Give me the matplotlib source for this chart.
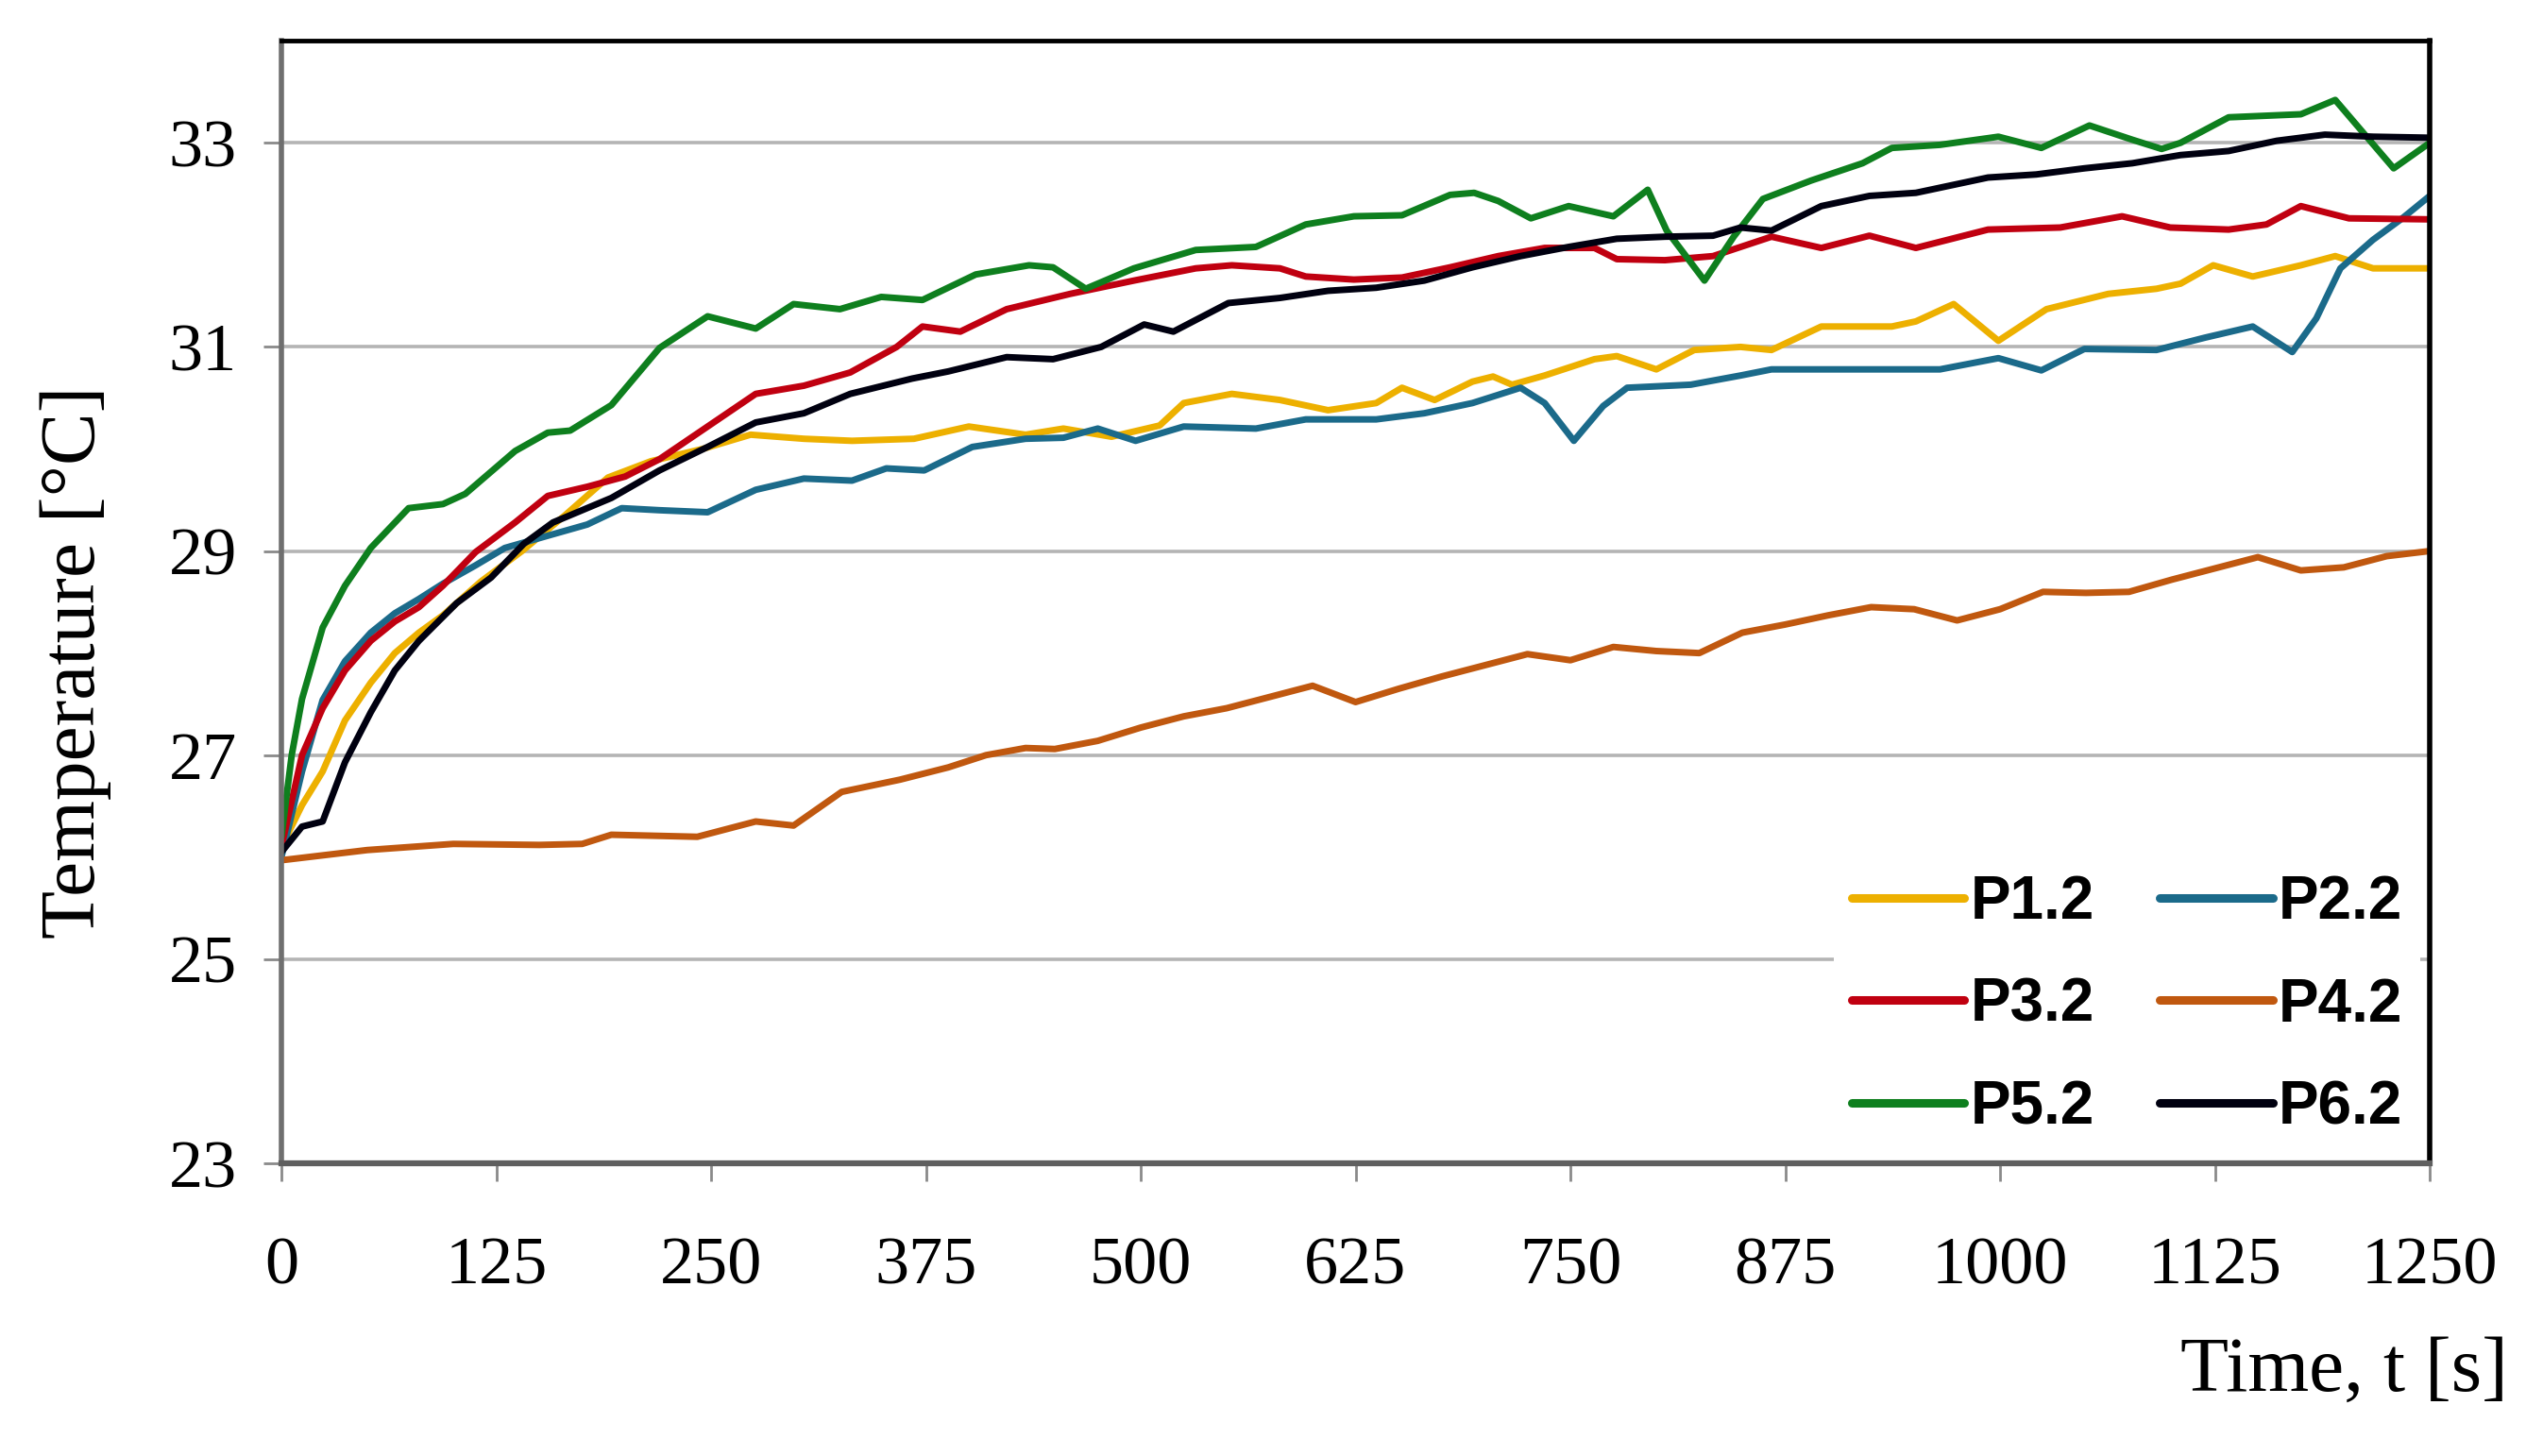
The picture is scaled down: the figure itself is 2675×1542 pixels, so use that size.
import numpy as np
import matplotlib.pyplot as plt

# values (time in s, temperature in degC)
t_p1 = [0, 12, 24, 37, 52, 66, 80, 94, 116, 140, 165, 190, 215, 245, 273, 304, 332, 368, 400, 433,
        455, 483, 511, 525, 553, 581, 609, 637, 652, 671, 693, 705, 716, 735, 764, 777, 800, 822, 849,
        867, 896, 937, 951, 973, 999, 1027, 1063, 1091, 1105, 1124, 1147, 1175, 1195, 1217, 1250]
p1 = [26.1, 26.51, 26.84, 27.34, 27.71, 28.0, 28.2, 28.37, 28.7, 29.0, 29.35, 29.72, 29.88, 30.0, 30.14,
      30.1, 30.08, 30.1, 30.22, 30.14, 30.2, 30.12, 30.23, 30.45, 30.54, 30.48, 30.38, 30.45, 30.6, 30.48,
      30.66, 30.71, 30.63, 30.72, 30.88, 30.91, 30.78, 30.97, 31.0, 30.97, 31.2, 31.2, 31.25, 31.42, 31.06,
      31.37, 31.52, 31.57, 31.62, 31.8, 31.69, 31.8, 31.89, 31.77, 31.77]

t_p2 = [0, 12, 24, 37, 52, 66, 80, 94, 113, 130, 155, 178, 198, 220, 248, 276, 304, 332, 352, 374, 402,
        433, 455, 475, 497, 525, 567, 596, 637, 665, 693, 721, 735, 752, 769, 783, 820, 849, 867, 909, 965,
        999, 1024, 1049, 1091, 1119, 1147, 1170, 1184, 1198, 1217, 1234, 1250]
p2 = [26.0, 26.84, 27.54, 27.92, 28.2, 28.39, 28.53, 28.68, 28.86, 29.03, 29.15, 29.26, 29.42, 29.4, 29.38,
      29.6, 29.71, 29.69, 29.81, 29.79, 30.02, 30.1, 30.11, 30.2, 30.08, 30.22, 30.2, 30.29, 30.29, 30.35,
      30.45, 30.6, 30.45, 30.08, 30.42, 30.6, 30.63, 30.72, 30.78, 30.78, 30.78, 30.89, 30.77, 30.98, 30.97,
      31.09, 31.2, 30.95, 31.28, 31.77, 32.05, 32.26, 32.48]

t_p3 = [0, 12, 24, 37, 52, 66, 80, 94, 113, 136, 155, 178, 200, 220, 248, 276, 304, 331, 358, 373, 395,
        422, 459, 496, 532, 553, 581, 596, 624, 652, 680, 708, 735, 764, 777, 805, 833, 867, 896, 924, 951,
        993, 1035, 1071, 1099, 1133, 1155, 1175, 1203, 1250]
p3 = [26.1, 27.0, 27.46, 27.83, 28.12, 28.31, 28.45, 28.66, 28.99, 29.28, 29.54, 29.63, 29.73, 29.9, 30.22,
      30.54, 30.62, 30.75, 31.0, 31.2, 31.15, 31.37, 31.52, 31.65, 31.77, 31.8, 31.77, 31.69, 31.66, 31.68,
      31.78, 31.89, 31.97, 31.97, 31.86, 31.85, 31.89, 32.08, 31.97, 32.09, 31.97, 32.15, 32.17, 32.28,
      32.17, 32.15, 32.2, 32.38, 32.26, 32.25]

t_p4 = [0, 50, 100, 150, 175, 192, 242, 276, 298, 326, 360, 388, 410, 433, 450, 475, 500, 525, 550, 575,
        600, 625, 650, 675, 700, 725, 750, 775, 800, 825, 850, 875, 900, 925, 950, 975, 1000, 1025, 1050,
        1075, 1100, 1125, 1150, 1175, 1200, 1225, 1250]
p4 = [25.97, 26.07, 26.13, 26.12, 26.13, 26.22, 26.2, 26.35, 26.31, 26.64, 26.76, 26.88, 27.0, 27.07, 27.06,
      27.14, 27.27, 27.38, 27.46, 27.57, 27.68, 27.52, 27.65, 27.77, 27.88, 27.99, 27.93, 28.06, 28.02, 28.0,
      28.2, 28.28, 28.37, 28.45, 28.43, 28.32, 28.43, 28.6, 28.59, 28.6, 28.72, 28.83, 28.94, 28.81, 28.84,
      28.95, 29.0]

t_p5 = [0, 6, 12, 24, 37, 52, 74, 94, 107, 136, 155, 168, 192, 220, 248, 276, 298, 325, 349, 373, 404, 435,
        449, 468, 496, 532, 567, 596, 624, 652, 680, 694, 708, 727, 749, 775, 795, 806, 828, 845, 862, 890,
        920, 937, 965, 999, 1024, 1052, 1077, 1094, 1105, 1133, 1175, 1195, 1229, 1250]
p5 = [26.2, 27.0, 27.55, 28.25, 28.66, 29.03, 29.42, 29.46, 29.56, 29.98, 30.16, 30.18, 30.43, 30.99, 31.3,
      31.18, 31.42, 31.37, 31.49, 31.46, 31.71, 31.8, 31.78, 31.57, 31.77, 31.95, 31.98, 32.2, 32.28, 32.29,
      32.49, 32.51, 32.43, 32.26, 32.38, 32.28, 32.54, 32.14, 31.65, 32.08, 32.45, 32.63, 32.8, 32.95,
      32.98, 33.06, 32.95, 33.17, 33.03, 32.94, 33.0, 33.25, 33.28, 33.42, 32.75, 33.0]

t_p6 = [0, 12, 24, 37, 52, 66, 80, 102, 122, 141, 158, 192, 220, 248, 276, 304, 331, 367, 388, 422, 449,
        477, 502, 519, 551, 581, 609, 637, 665, 693, 721, 749, 777, 805, 833, 849, 867, 896, 924, 951,
        993, 1021, 1049, 1077, 1105, 1133, 1161, 1189, 1217, 1250]
p6 = [26.05, 26.3, 26.35, 26.93, 27.42, 27.83, 28.12, 28.49, 28.74, 29.07, 29.28, 29.52, 29.79, 30.02, 30.26,
      30.35, 30.54, 30.69, 30.76, 30.9, 30.88, 31.0, 31.22, 31.15, 31.43, 31.48, 31.55, 31.58, 31.65,
      31.78, 31.89, 31.98, 32.06, 32.08, 32.09, 32.17, 32.14, 32.38, 32.48, 32.51, 32.66, 32.69, 32.75,
      32.8, 32.88, 32.92, 33.02, 33.08, 33.06, 33.05]

series = [("P1.2", t_p1, p1, "#EDB000"),
          ("P2.2", t_p2, p2, "#1B6A8A"),
          ("P3.2", t_p3, p3, "#C00010"),
          ("P4.2", t_p4, p4, "#C0580F"),
          ("P5.2", t_p5, p5, "#0E7F1E"),
          ("P6.2", t_p6, p6, "#000010")]

x_ticks = [0, 125, 250, 375, 500, 625, 750, 875, 1000, 1125, 1250]
y_ticks = [23, 25, 27, 29, 31, 33]

plt.rcParams['font.family'] = 'Liberation Serif'

fig = plt.figure(figsize=(26.75, 15.42), dpi=100)
ax = fig.add_axes([0.1114, 0.201, 0.8505, 0.771])

handles = []
for name, t, y, c in series:
    h, = ax.plot(t, y, color=c, linewidth=5, label=name,
                 solid_capstyle='round', solid_joinstyle='round')
    handles.append(h)

ax.set_xlim(0, 1250)
ax.set_ylim(23, 34)
ax.set_xticks(x_ticks)
ax.set_yticks(y_ticks)
ax.tick_params(axis='both', labelsize=52, direction='out', length=14, width=2, color='#8a8a8a')
ax.tick_params(axis='x', pad=42)
ax.tick_params(axis='y', pad=20)
ax.yaxis.grid(True, color='#b4b4b4', linewidth=2.6)
ax.set_axisbelow(True)

ax.spines['left'].set_color('#6f6f6f')
ax.spines['left'].set_linewidth(4)
ax.spines['bottom'].set_color('#5f5f5f')
ax.spines['bottom'].set_linewidth(4.5)
ax.spines['top'].set_color('black')
ax.spines['top'].set_linewidth(3.5)
ax.spines['right'].set_color('black')
ax.spines['right'].set_linewidth(4)

# legend reads row by row in the original: P1.2 P2.2 / P3.2 P4.2 / P5.2 P6.2
order = [0, 2, 4, 1, 3, 5]
leg = ax.legend([handles[i] for i in order], [series[i][0] for i in order],
                ncol=2, loc='lower right', bbox_to_anchor=(1.0, 0.0), frameon=True,
                facecolor='white', edgecolor='none', framealpha=1, fancybox=False,
                prop={'family': 'Liberation Sans', 'weight': 'bold', 'size': 46},
                handlelength=1.87, handletextpad=0.1, columnspacing=1.08, labelspacing=0.76,
                borderpad=0.3, borderaxespad=0.15)
for line in leg.get_lines():
    line.set_linewidth(6.5)

fig.text(0.030, 0.545, "Temperature [°C]", rotation=90, ha='center', va='center', fontsize=60)
fig.text(0.993, 0.058, "Time, t [s]", ha='right', va='center', fontsize=60)

fig.savefig("out.png", dpi=100)
